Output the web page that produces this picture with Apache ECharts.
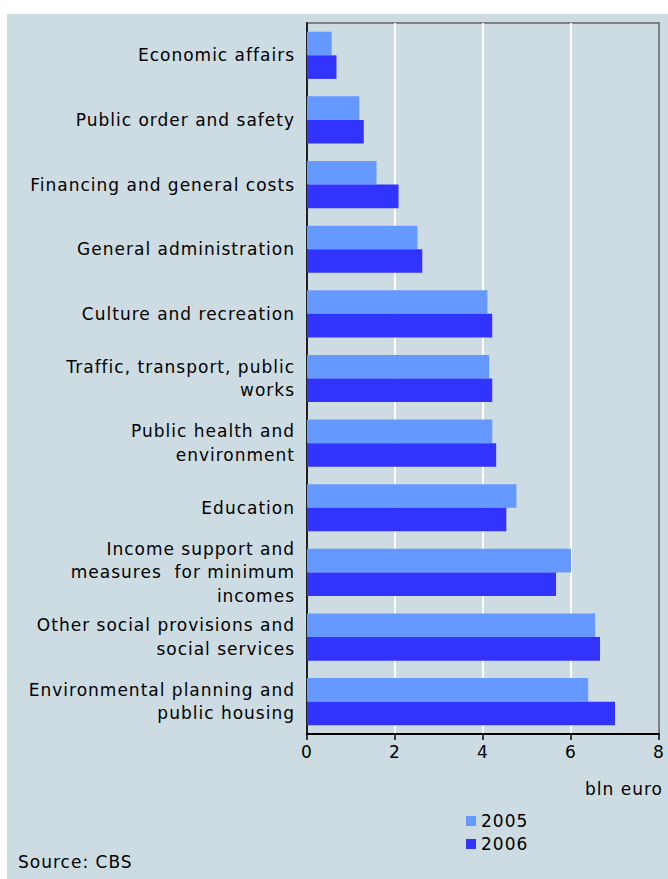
<!DOCTYPE html>
<html>
<head>
<meta charset="utf-8">
<script src="https://cdn.jsdelivr.net/npm/echarts@6/dist/echarts.min.js"></script>
<style>
html,body{margin:0;padding:0;background:#ffffff;}
#chart{width:668px;height:879px;}
#chart svg text{letter-spacing:1px;}
</style>
</head>
<body>
<div id="chart"></div>
<script>
var categories = [
  "Economic affairs",
  "Public order and safety",
  "Financing and general costs",
  "General administration",
  "Culture and recreation",
  "Traffic, transport, public\nworks",
  "Public health and\nenvironment",
  "Education",
  "Income support and\nmeasures  for minimum\nincomes",
  "Other social provisions and\nsocial services",
  "Environmental planning and\npublic housing"
];
var values2005 = [0.56, 1.19, 1.58, 2.51, 4.10, 4.14, 4.21, 4.76, 6.00, 6.55, 6.39];
var values2006 = [0.67, 1.29, 2.08, 2.62, 4.21, 4.21, 4.30, 4.53, 5.66, 6.66, 7.00];
var xTicks = [0, 2, 4, 6, 8];
var seriesNames = ["2005", "2006"];

var FONT = "DejaVu Sans";
var chart = echarts.init(document.getElementById('chart'), null, {renderer: 'svg'});
chart.setOption({
  backgroundColor: '#ffffff',
  animation: false,
  textStyle: {fontFamily: FONT},
  graphic: [
    {type: 'rect', z: -10, shape: {x: 7, y: 14, width: 661, height: 865}, style: {fill: '#cddce2'}},
    {type: 'text', x: 663, y: 789, style: {text: 'bln euro', font: '17px "DejaVu Sans"', fill: '#000', align: 'right', verticalAlign: 'middle'}},
    {type: 'text', x: 18, y: 862, style: {text: 'Source: CBS', font: '17px "DejaVu Sans"', fill: '#000', align: 'left', verticalAlign: 'middle'}}
  ],
  legend: {
    orient: 'vertical',
    left: 461,
    top: 806,
    itemWidth: 10,
    itemHeight: 10,
    itemGap: 3,
    icon: 'rect',
    textStyle: {fontSize: 17, color: '#000', fontFamily: FONT, lineHeight: 20, padding: [0, 0, 0, 0]},
    data: seriesNames
  },
  grid: {
    left: 307, right: 9, top: 23, bottom: 145,
    show: true, borderColor: '#808080', borderWidth: 2, backgroundColor: 'transparent'
  },
  xAxis: {
    type: 'value', min: xTicks[0], max: xTicks[xTicks.length - 1], interval: 2,
    axisLine: {show: true, lineStyle: {color: '#000', width: 2}},
    axisTick: {show: true, length: 6, lineStyle: {color: '#000', width: 1.5}},
    axisLabel: {fontSize: 17, color: '#000', margin: 9, fontFamily: FONT},
    splitLine: {show: true, showMinLine: false, showMaxLine: false, lineStyle: {color: '#ffffff', width: 2}}
  },
  yAxis: {
    type: 'category', inverse: true, data: categories,
    axisLine: {show: true, onZero: false, lineStyle: {color: '#000', width: 1.5}},
    axisTick: {show: false},
    axisLabel: {fontSize: 17, color: '#000', margin: 12, lineHeight: 23.5, align: 'right', fontFamily: FONT}
  },
  series: [
    {name: seriesNames[0], type: 'bar', data: values2005, barGap: '0%', barCategoryGap: '27%',
     itemStyle: {color: '#6699ff'}},
    {name: seriesNames[1], type: 'bar', data: values2006, barGap: '0%', barCategoryGap: '27%',
     itemStyle: {color: '#3333ff'}}
  ]
});
</script>
</body>
</html>
